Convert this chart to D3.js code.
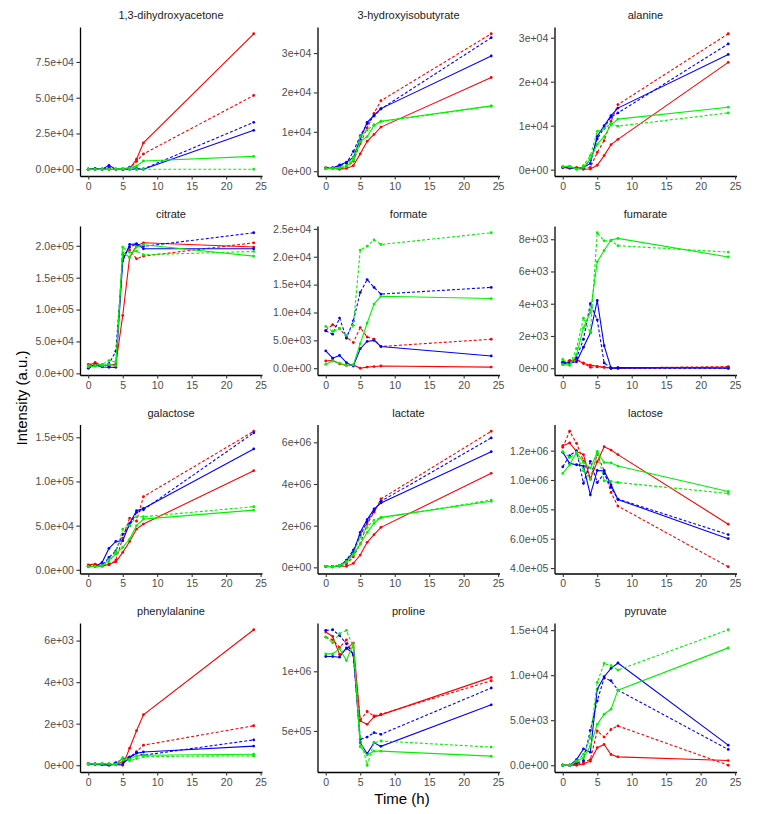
<!DOCTYPE html>
<html>
<head>
<meta charset="utf-8">
<script src="https://cdn.jsdelivr.net/npm/d3@7"></script>
<style>
  html, body { margin: 0; padding: 0; background: #fff; }
  svg { display: block; font-family: "Liberation Sans", Arial, Helvetica, sans-serif; }
</style>
</head>
<body>
<svg id="chart" width="759" height="814"></svg>
<script>
// ---------------- DATA ----------------
const times = [0, 1, 2, 3, 4, 5, 6, 7, 8, 24];
const xTicks = [0, 5, 10, 15, 20, 25];

// series order: red solid, red dashed, blue solid, blue dashed, green solid, green dashed
const seriesNames = ["red_solid", "red_dashed", "blue_solid", "blue_dashed", "green_solid", "green_dashed"];

const metabolites = ["1,3-dihydroxyacetone", "3-hydroxyisobutyrate", "alanine",
  "citrate", "formate", "fumarate",
  "galactose", "lactate", "lactose",
  "phenylalanine", "proline", "pyruvate"];

const dihydroxyacetone = [
  [0, 0, 0, 0, 0, 0, 300, 7000, 18400, 94700],
  [0, 0, 0, 0, 0, 0, 200, 5500, 10700, 51600],
  [0, 500, 0, 2700, 0, 0, 0, 0, 0, 27200],
  [0, 0, 0, 1200, 0, 0, 1500, 500, 200, 32800],
  [0, 0, 0, 0, 0, 500, 1000, 2300, 5800, 9000],
  [0, 0, 0, 0, 0, 0, 0, 0, 0, 0]
];
const hydroxyisobutyrate = [
  [800, 700, 500, 700, 1400, 4400, 7600, 9350, 11200, 23800],
  [900, 800, 600, 1000, 2500, 7000, 11000, 14700, 17900, 34900],
  [700, 800, 1600, 2300, 3500, 8100, 12400, 14200, 15900, 29250],
  [700, 900, 1300, 2000, 5000, 9000, 12000, 14000, 15800, 33900],
  [700, 700, 800, 1200, 2800, 7500, 8800, 11600, 12700, 16600],
  [600, 700, 900, 1400, 3500, 8800, 10450, 11800, 12600, 16500]
];
const alanine = [
  [500, 300, 300, 100, 150, 1000, 3200, 5700, 6900, 24400],
  [600, 400, 500, 200, 500, 3900, 6600, 11000, 14800, 30900],
  [600, 400, 300, 500, 1400, 7600, 10000, 12300, 14000, 26200],
  [500, 500, 200, 600, 2200, 7000, 9500, 12000, 12900, 28600],
  [700, 800, 200, 500, 2400, 5800, 7500, 10200, 11500, 14200],
  [700, 600, 100, 900, 3200, 8700, 9300, 10500, 9900, 12900]
];
const citrate = [
  [12000, 17000, 12000, 13000, 14700, 90600, 182000, 200000, 204700, 198000],
  [14000, 15000, 13000, 11000, 13000, 186000, 193700, 179600, 183800, 204700],
  [9000, 14000, 10000, 9500, 9400, 176000, 202000, 203000, 195300, 195300],
  [8000, 12000, 11000, 15000, 34600, 179600, 198000, 203000, 199000, 220400],
  [10000, 11000, 12000, 14000, 12000, 189500, 182000, 198000, 201600, 183800],
  [12000, 13000, 14000, 20000, 18000, 198000, 190000, 191600, 185900, 191100]
];
const formate = [
  [1300, 1400, 800, 500, 600, 0, 200, 300, 400, 200],
  [6800, 7800, 7100, 5600, 4600, 7300, 5600, 5200, 3900, 5200],
  [3100, 1800, 2300, 1000, 400, 3500, 4800, 5000, 3900, 2200],
  [6700, 6100, 9000, 5400, 8500, 13600, 15900, 14500, 13300, 14500],
  [700, 1300, 900, 500, 600, 4400, 8100, 11500, 12900, 12500],
  [7500, 6600, 7100, 5900, 7700, 21200, 21900, 23000, 22200, 24300]
];
const fumarate = [
  [230, 440, 540, 290, 190, 120, 60, 20, 0, 60],
  [400, 480, 540, 330, 60, 80, 60, 0, 20, 100],
  [330, 330, 400, 1300, 2200, 4200, 1400, 0, 40, 0],
  [370, 230, 650, 1800, 4000, 3000, 330, 0, 0, 0],
  [230, 190, 850, 2500, 3450, 6600, 7300, 7950, 8050, 6900],
  [540, 190, 1230, 3100, 2200, 8400, 7900, 7900, 7600, 7200]
];
const galactose = [
  [5700, 6400, 4500, 6400, 9000, 19700, 32100, 46100, 51800, 112200],
  [4500, 5000, 4000, 5500, 11000, 35900, 58600, 55000, 82800, 156800],
  [3800, 3800, 8300, 24200, 32100, 32900, 52500, 66900, 69500, 136800],
  [3800, 4000, 5000, 14000, 21500, 40400, 50000, 65000, 68000, 155000],
  [3800, 3800, 4500, 11300, 17800, 25300, 34800, 50000, 57400, 67600],
  [3500, 4000, 4800, 9000, 20000, 46100, 50000, 60000, 60100, 71400]
];
const lactate = [
  [50000, 30000, 50000, 50000, 190000, 590000, 1200000, 1570000, 1920000, 4510000],
  [50000, 40000, 80000, 150000, 500000, 1120000, 2080000, 2640000, 3280000, 6530000],
  [50000, 30000, 80000, 320000, 720000, 1680000, 2290000, 2800000, 3090000, 5550000],
  [50000, 30000, 80000, 350000, 830000, 1520000, 2200000, 2700000, 3170000, 6210000],
  [50000, 30000, 80000, 240000, 610000, 1120000, 1680000, 2110000, 2400000, 3170000],
  [50000, 30000, 90000, 280000, 650000, 1440000, 1920000, 2270000, 2370000, 3230000]
];
const lactose = [
  [1234000, 1252000, 1193000, 1173000, 1006000, 1125000, 1227000, 1204000, 1173000, 699000],
  [1223000, 1332000, 1250000, 1130000, 1006000, 1177000, 1063000, 915000, 822000, 409000],
  [1189000, 1113000, 1104000, 1095000, 899000, 1065000, 1063000, 967000, 867000, 600000],
  [1090000, 1166000, 1200000, 977000, 1127000, 983000, 1045000, 949000, 870000, 628000],
  [1045000, 1104000, 1189000, 1120000, 1081000, 1189000, 1120000, 1116000, 1095000, 922000],
  [1193000, 1154000, 1177000, 1063000, 1004000, 1195000, 995000, 990000, 983000, 908000]
];
const phenylalanine = [
  [60, 40, 30, 20, 30, 0, 820, 1660, 2430, 6520],
  [80, 60, 50, 40, 60, 150, 350, 650, 965, 1900],
  [50, 40, 30, 0, 50, 60, 370, 580, 640, 920],
  [70, 60, 50, 60, 120, 290, 400, 610, 480, 1220],
  [80, 50, 90, 60, 30, 370, 290, 450, 480, 530],
  [60, 50, 70, 80, 50, 260, 210, 320, 420, 450]
];
const proline = [
  [1329000, 1292000, 1140000, 1188000, 1236000, 584000, 556000, 618000, 635000, 949000],
  [1287000, 1264000, 1200000, 1264000, 1132000, 590000, 663000, 626000, 640000, 921000],
  [1124000, 1124000, 1118000, 1197000, 1146000, 402000, 309000, 402000, 371000, 719000],
  [1343000, 1348000, 1300000, 1230000, 1140000, 430000, 449000, 486000, 472000, 860000],
  [1146000, 1146000, 1188000, 1090000, 1230000, 368000, 298000, 331000, 331000, 289000],
  [1287000, 1239000, 1315000, 1343000, 1200000, 449000, 213000, 402000, 416000, 365000]
];
const pyruvate = [
  [0, 0, 0, 150, 450, 1940, 2310, 1190, 930, 520],
  [0, 0, 70, 370, 630, 3800, 3130, 3980, 4360, 0],
  [0, 0, 630, 1820, 1450, 8450, 9830, 10760, 11350, 2230],
  [0, 0, 260, 520, 3870, 7150, 9680, 9380, 8340, 1750],
  [0, 0, 450, 820, 2120, 4540, 5660, 6220, 8340, 13030],
  [0, 0, 450, 1200, 3050, 9200, 11300, 11060, 10570, 15040]
];

const panelData = [dihydroxyacetone, hydroxyisobutyrate, alanine, citrate, formate, fumarate,
  galactose, lactate, lactose, phenylalanine, proline, pyruvate];

const yTicks = [
  [0, 25000, 50000, 75000],
  [0, 10000, 20000, 30000],
  [0, 10000, 20000, 30000],
  [0, 50000, 100000, 150000, 200000],
  [0, 5000, 10000, 15000, 20000, 25000],
  [0, 2000, 4000, 6000, 8000],
  [0, 50000, 100000, 150000],
  [0, 2000000, 4000000, 6000000],
  [400000, 600000, 800000, 1000000, 1200000],
  [0, 2000, 4000, 6000],
  [500000, 1000000],
  [0, 5000, 10000, 15000]
];

// ---------------- STYLE ----------------
const seriesColor = { red_solid: "#FF0000", red_dashed: "#FF0000", blue_solid: "#0000FF",
  blue_dashed: "#0000FF", green_solid: "#00F000", green_dashed: "#00F000" };
const seriesDash = { red_solid: null, red_dashed: "3,2", blue_solid: null,
  blue_dashed: "3,2", green_solid: null, green_dashed: "3,2" };

const colLeft = [80, 317.5, 554.5];
const panelW = 182;
const rowTop = [27, 226, 424.5, 623];
const panelH = 149;

// R-like scientific formatter: shared number of mantissa digits
function sciLabels(ticks) {
  let d = 0;
  for (; d < 4; d++) {
    if (ticks.every(t => Math.abs(+(+t).toExponential(d) - t) < 1e-9 * Math.max(1, Math.abs(t)))) break;
  }
  return ticks.map(t => {
    const s = (+t).toExponential(d);
    const [m, e] = s.split("e");
    const sign = e[0] === "-" ? "-" : "+";
    const ex = Math.abs(+e).toString().padStart(2, "0");
    return m + "e" + sign + ex;
  });
}

const svg = d3.select("#chart");

metabolites.forEach((name, i) => {
  const col = i % 3, row = Math.floor(i / 3);
  const left = colLeft[col], top = rowTop[row];
  const data = panelData[i];

  const all = data.flat();
  const mn = d3.min(all), mx = d3.max(all);
  const pad = (mx - mn) * 0.05;

  const x = d3.scaleLinear().domain([-1.2, 25.2]).range([left, left + panelW]);
  const y = d3.scaleLinear().domain([mn - pad, mx + pad]).range([top + panelH, top]);

  const g = svg.append("g");

  // title
  g.append("text")
    .attr("x", left + panelW / 2)
    .attr("y", top - 8)
    .attr("text-anchor", "middle")
    .attr("font-size", 11)
    .attr("fill", "#1A1A1A")
    .text(name);

  // series
  const line = d3.line().x((d, k) => x(times[k])).y(d => y(d));
  seriesNames.forEach((s, si) => {
    const vals = data[si];
    g.append("path")
      .datum(vals)
      .attr("d", line)
      .attr("fill", "none")
      .attr("stroke", seriesColor[s])
      .attr("stroke-width", 1.1)
      .attr("stroke-dasharray", seriesDash[s]);
    g.selectAll(null)
      .data(vals)
      .enter()
      .append("circle")
      .attr("cx", (d, k) => x(times[k]))
      .attr("cy", d => y(d))
      .attr("r", 1.4)
      .attr("fill", seriesColor[s]);
  });

  // axes
  const labels = sciLabels(yTicks[i]);
  const yAxis = d3.axisLeft(y).tickValues(yTicks[i])
    .tickFormat((d, k) => labels[k]).tickSizeInner(3.6).tickSizeOuter(0).tickPadding(2.6);
  const xAxis = d3.axisBottom(x).tickValues(xTicks)
    .tickFormat(d3.format("d")).tickSizeInner(3.6).tickSizeOuter(0).tickPadding(2.6);

  const ya = g.append("g").attr("transform", `translate(${left},0)`).call(yAxis);
  const xa = g.append("g").attr("transform", `translate(0,${top + panelH})`).call(xAxis);
  [ya, xa].forEach(a => {
    a.select(".domain").attr("stroke", "#000").attr("stroke-width", 1.3);
    a.selectAll(".tick line").attr("stroke", "#333").attr("stroke-width", 1.1);
    a.selectAll(".tick text").attr("fill", "#4D4D4D").attr("font-size", 10.5)
      .attr("font-family", "'Liberation Sans', Arial, sans-serif");
  });
});

// axis titles
svg.append("text")
  .attr("x", 402)
  .attr("y", 804)
  .attr("text-anchor", "middle")
  .attr("font-size", 15)
  .attr("fill", "#000")
  .text("Time (h)");

svg.append("text")
  .attr("transform", "translate(27,398) rotate(-90)")
  .attr("text-anchor", "middle")
  .attr("font-size", 15)
  .attr("fill", "#000")
  .text("Intensity (a.u.)");
</script>
</body>
</html>
